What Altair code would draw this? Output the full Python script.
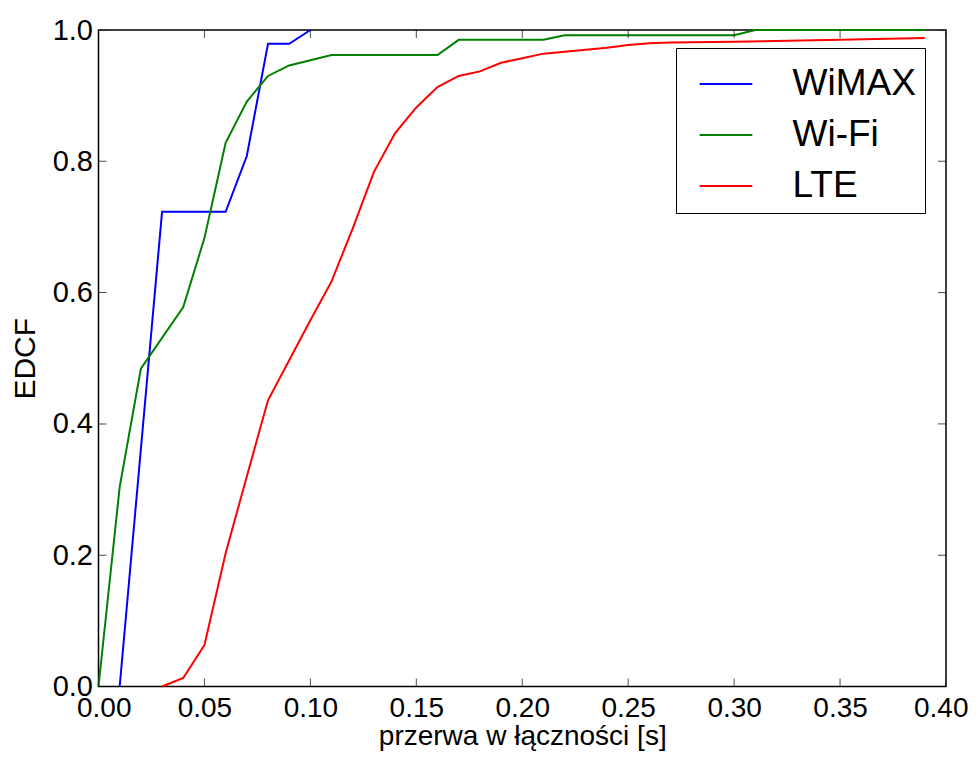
import altair as alt
import pandas as pd

# ---- data ----
series_names = ["WiMAX", "Wi-Fi", "LTE"]
series_colors = ["#0000ff", "#008000", "#ff0000"]

wimax_x = [0.01, 0.03, 0.06, 0.07, 0.08, 0.09, 0.10]
wimax_y = [0.0, 0.723, 0.723, 0.808, 0.979, 0.979, 1.0]

wifi_x = [0.0, 0.01, 0.02, 0.04, 0.05, 0.06, 0.07, 0.08, 0.09, 0.10, 0.11,
          0.16, 0.17, 0.21, 0.22, 0.30, 0.31, 0.39]
wifi_y = [0.0, 0.304, 0.484, 0.578, 0.683, 0.828, 0.891, 0.930, 0.946, 0.954,
          0.962, 0.962, 0.985, 0.985, 0.992, 0.992, 1.0, 1.0]

lte_x = [0.03, 0.04, 0.05, 0.06, 0.07, 0.08, 0.09, 0.10, 0.11, 0.12, 0.13,
         0.14, 0.15, 0.16, 0.17, 0.18, 0.19, 0.20, 0.21, 0.22, 0.23, 0.24,
         0.25, 0.26, 0.27, 0.30, 0.35, 0.39]
lte_y = [0.0, 0.013, 0.063, 0.203, 0.320, 0.436, 0.497, 0.558, 0.617, 0.698,
         0.784, 0.843, 0.882, 0.913, 0.930, 0.937, 0.950, 0.957, 0.964, 0.967,
         0.970, 0.973, 0.977, 0.980, 0.981, 0.982, 0.985, 0.988]

x_ticks = [0.0, 0.05, 0.10, 0.15, 0.20, 0.25, 0.30, 0.35, 0.40]
y_ticks = [0.0, 0.2, 0.4, 0.6, 0.8, 1.0]

x_title = "przerwa w łączności [s]"
y_title = "EDCF"

# ---- tables ----
parts = []
for name, xs_, ys_ in [("WiMAX", wimax_x, wimax_y),
                       ("Wi-Fi", wifi_x, wifi_y),
                       ("LTE", lte_x, lte_y)]:
    parts.append(pd.DataFrame({"x": xs_, "y": ys_, "series": name,
                               "idx": range(len(xs_))}))
df = pd.concat(parts, ignore_index=True)
xt = pd.DataFrame({"x": x_ticks})
yt = pd.DataFrame({"y": y_ticks})

FONT = "Liberation Sans"
xscale = alt.Scale(domain=[0, 0.4], nice=False, zero=False)
yscale = alt.Scale(domain=[0, 1], nice=False, zero=False)

x_axis = alt.Axis(values=x_ticks, format=".2f", title=x_title,
                  labelFontSize=28, labelPadding=8,
                  titleFontSize=28, titlePadding=0,
                  labelFlush=True, labelFlushOffset=22, labelOverlap=False)
y_axis = alt.Axis(values=y_ticks, format=".1f", title=y_title,
                  labelFontSize=29, labelPadding=6,
                  titleFontSize=30, titlePadding=12,
                  labelFlush=False, labelOverlap=False)

lines = alt.Chart(df).mark_line(strokeWidth=2).encode(
    x=alt.X("x:Q", scale=xscale, axis=x_axis),
    y=alt.Y("y:Q", scale=yscale, axis=y_axis),
    color=alt.Color("series:N",
                    scale=alt.Scale(domain=series_names, range=series_colors),
                    sort=series_names,
                    legend=alt.Legend(orient="none", legendX=577.5, legendY=18,
                                      title=None, strokeColor="black",
                                      fillColor="white", padding=8.5,
                                      symbolType="stroke", symbolSize=2767,
                                      symbolStrokeWidth=2, symbolOffset=14,
                                      labelOffset=39, labelFontSize=37,
                                      labelFont=FONT, labelColor="black",
                                      rowPadding=5, labelLimit=0)),
    order=alt.Order("idx:Q"),
)

tick_kw = dict(color="black", thickness=1, size=16, clip=True)
bottom_t = alt.Chart(xt).mark_tick(orient="vertical", **tick_kw).encode(
    x=alt.X("x:Q", scale=xscale, axis=x_axis), y=alt.datum(0))
top_t = alt.Chart(xt).mark_tick(orient="vertical", **tick_kw).encode(
    x=alt.X("x:Q", scale=xscale, axis=x_axis), y=alt.datum(1))
left_t = alt.Chart(yt).mark_tick(orient="horizontal", **tick_kw).encode(
    y=alt.Y("y:Q", scale=yscale, axis=y_axis), x=alt.datum(0))
right_t = alt.Chart(yt).mark_tick(orient="horizontal", **tick_kw).encode(
    y=alt.Y("y:Q", scale=yscale, axis=y_axis), x=alt.datum(0.4))

chart = alt.layer(lines, bottom_t, top_t, left_t, right_t).properties(
    width=847.5, height=656.5,
    autosize=alt.AutoSizeParams(type="none"),
    padding={"left": 90.5, "top": 22, "right": 23, "bottom": 65.5},
).configure_view(
    stroke="black", strokeWidth=1.5
).configure_axis(
    grid=False, domain=False, ticks=False, tickSize=0,
    labelFont=FONT, titleFont=FONT, labelColor="black", titleColor="black",
    titleFontWeight="normal"
)

chart.save("out.html", embed_options={"renderer": "svg", "actions": False})
